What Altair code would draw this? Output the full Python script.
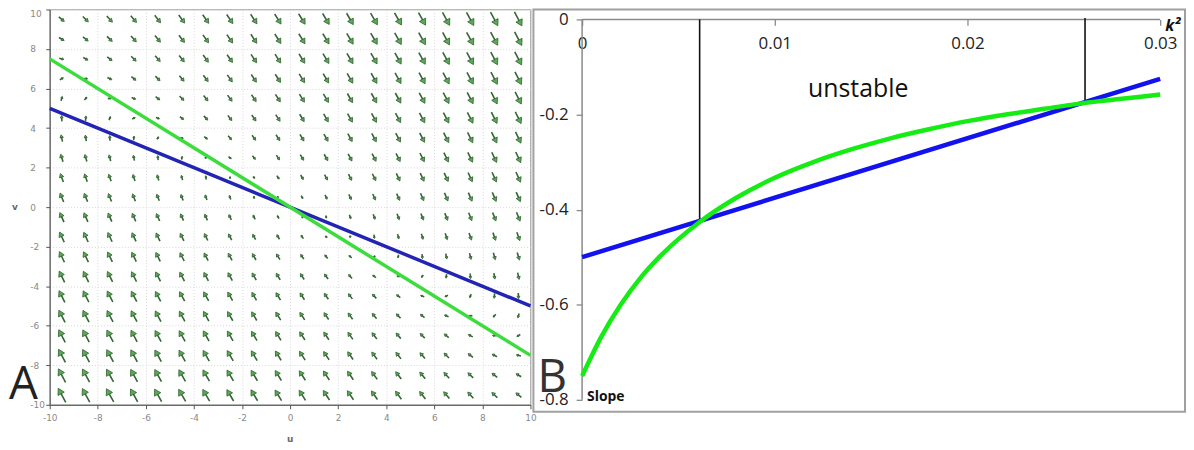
import math
import pandas as pd
import altair as alt

# ---------------- Panel A : direction field ----------------
grid_u = [-9.5, -8.5, -7.5, -6.5, -5.5, -4.5, -3.5, -2.5, -1.5, -0.5,
          0.5, 1.5, 2.5, 3.5, 4.5, 5.5, 6.5, 7.5, 8.5, 9.5]
grid_v = [-9.5, -8.5, -7.5, -6.5, -5.5, -4.5, -3.5, -2.5, -1.5, -0.5,
          0.5, 1.5, 2.5, 3.5, 4.5, 5.5, 6.5, 7.5, 8.5, 9.5]
# linear system read from the arrow directions (du/dt, dv/dt)
jac_du = [1.0, 2.0]     # du/dt = 1.0*u + 2.0*v
jac_dv = [-2.4, -3.2]   # dv/dt = -2.4*u - 3.2*v

line_u = [-10, 10]
blue_v = [5, -5]
green_v = [7.5, -7.5]
ticks_A = [-10, -8, -6, -4, -2, 0, 2, 4, 6, 8, 10]

# ---------------- Panel B : slopes vs k^2 ----------------
k2_blue = [0.0, 0.03]
slope_blue = [-0.5, -0.125]
k2_green = [0.0, 0.001, 0.002, 0.003, 0.004, 0.005, 0.006, 0.008, 0.010, 0.012,
            0.014, 0.016, 0.018, 0.020, 0.022, 0.024, 0.026, 0.028, 0.030]
slope_green = [-0.750, -0.667, -0.600, -0.545, -0.500, -0.462, -0.429, -0.375, -0.333, -0.300,
               -0.273, -0.250, -0.231, -0.214, -0.200, -0.188, -0.176, -0.167, -0.158]
k2_marks = [0.0061, 0.0261]
slope_marks = [-0.424, -0.174]
x_ticks_B = [0, 0.01, 0.02, 0.03]
y_ticks_B = [-0.8, -0.6, -0.4, -0.2, 0]

# ---------------- sizes ----------------
A_W, A_H = 484, 398
B_W, B_H = 656, 405
PX_U = A_W / 20.0
PX_V = A_H / 20.0
L_MAX = 17.0

# ---------- arrows ----------
vecs = []
for u in grid_u:
    for v in grid_v:
        f = jac_du[0] * u + jac_du[1] * v
        g = jac_dv[0] * u + jac_dv[1] * v
        vecs.append((u, v, f, g, math.hypot(f, g)))
max_mag = max(m for *_, m in vecs)
shaft_rows, head_rows = [], []
for u, v, f, g, m in vecs:
    if m == 0:
        continue
    L = L_MAX * math.sqrt(m / max_mag)
    dx, dy = f / m, g / m
    hl = max(1.5, min(6.2, 0.4 * L))
    tail = (u - dx * L / 2 / PX_U, v - dy * L / 2 / PX_V)
    tip = (u + dx * L / 2 / PX_U, v + dy * L / 2 / PX_V)
    send = (tip[0] - dx * hl * 0.6 / PX_U, tip[1] - dy * hl * 0.6 / PX_V)
    hc = (tip[0] - dx * hl * (2 / 3) / PX_U, tip[1] - dy * hl * (2 / 3) / PX_V)
    shaft_rows.append({"x": tail[0], "y": tail[1], "x2": send[0], "y2": send[1]})
    ang = math.degrees(math.atan2(dx, dy)) % 360
    head_rows.append({"x": hc[0], "y": hc[1], "ang": ang, "sz": (hl / 0.866) ** 2})
shaft_df = pd.DataFrame(shaft_rows)
head_df = pd.DataFrame(head_rows)

lines_A = pd.DataFrame({
    "x": line_u + line_u,
    "y": blue_v + green_v,
    "series": ["blue", "blue", "green", "green"],
})

axA_x = alt.Axis(values=ticks_A, title=None, grid=True, gridDash=[1, 2], gridColor="#d6d6d6",
                 domainColor="#555", tickColor="#555", tickSize=4, labelFontSize=9,
                 labelFont="DejaVu Sans", labelColor="#888", labelPadding=5, labelFlush=False,
                 labelExpr="'' + datum.value")
axA_y = alt.Axis(values=ticks_A, title=None, grid=True, gridDash=[1, 2], gridColor="#d6d6d6",
                 domainColor="#555", tickColor="#555", tickSize=4, labelFontSize=9,
                 labelFont="DejaVu Sans", labelColor="#888", labelPadding=16, labelAlign="left",
                 labelFlush=False, labelExpr="'' + datum.value",
                 labelBaseline={"condition": {"test": "datum.value == 10", "value": "top"},
                                "value": "middle"})
scA_x = alt.Scale(domain=[-10, 10], nice=False, zero=False)
scA_y = alt.Scale(domain=[-10, 10], nice=False, zero=False)

shafts = alt.Chart(shaft_df).mark_rule(color="#356535", strokeWidth=1.6).encode(
    x=alt.X("x:Q", scale=scA_x, axis=axA_x),
    y=alt.Y("y:Q", scale=scA_y, axis=axA_y),
    x2="x2:Q", y2="y2:Q",
)
heads = alt.Chart(head_df).mark_point(shape="triangle-up", filled=True, fill="#5aaa55",
                                      stroke="#2f5a2f", strokeWidth=0.7, opacity=1).encode(
    x=alt.X("x:Q", scale=scA_x, axis=axA_x),
    y=alt.Y("y:Q", scale=scA_y, axis=axA_y),
    angle=alt.Angle("ang:Q", scale=None),
    size=alt.Size("sz:Q", scale=None),
)
linesA = alt.Chart(lines_A).mark_line(strokeWidth=3.5).encode(
    x=alt.X("x:Q", scale=scA_x, axis=axA_x),
    y=alt.Y("y:Q", scale=scA_y, axis=axA_y),
    color=alt.Color("series:N", scale=alt.Scale(domain=["blue", "green"],
                                                range=["#2323b4", "#3ddc3d"]), legend=None),
)
one = pd.DataFrame({"t": ["x"]})
txtA = alt.Chart(one).mark_text(text="A", fontSize=46, font="Open Sans", color="#222",
                                align="left", baseline="middle").encode(
    x=alt.value(-41), y=alt.value(378))
txtv = alt.Chart(one).mark_text(text="v", fontSize=9, font="DejaVu Sans", fontWeight="bold",
                                color="#666", align="center", baseline="middle").encode(
    x=alt.value(-35), y=alt.value(199))
txtu = alt.Chart(one).mark_text(text="u", fontSize=9, font="DejaVu Sans", fontWeight="bold",
                                color="#666", align="center", baseline="middle").encode(
    x=alt.value(242), y=alt.value(432))

panelA = alt.layer(shafts, heads, linesA, txtA, txtv, txtu).properties(
    width=A_W, height=A_H,
    view=alt.ViewBackground(stroke="#9c9c9c", strokeWidth=1.2),
)

# ---------- panel B ----------
PXB_X = 19400.0
PXB_Y = 478.75
x0_off = 49   # px from plot left to k2=0
y0_off = 10   # px from plot top to slope=0
scB_x = alt.Scale(domain=[-x0_off / PXB_X, (B_W - x0_off) / PXB_X], nice=False, zero=False)
scB_y = alt.Scale(domain=[-(B_H - y0_off) / PXB_Y, y0_off / PXB_Y], nice=False, zero=False)
axB_x = alt.Axis(orient="bottom", offset=-(B_H - y0_off), values=x_ticks_B, domain=False,
                 grid=False, tickSize=6, tickColor="#8a8a8a", tickWidth=1.3, labelFontSize=17,
                 labelFont="Open Sans", labelColor="#222", labelPadding=10,
                 labelExpr="'' + datum.value", title=None, labelFlush=False, labelOverlap=False)
axB_y = alt.Axis(orient="left", offset=-x0_off, values=y_ticks_B, domain=False, grid=False,
                 tickSize=6, tickColor="#8a8a8a", tickWidth=1.3, labelFontSize=17,
                 labelFont="Open Sans", labelColor="#222", labelPadding=8,
                 labelExpr="'' + datum.value", title=None, labelFlush=False, labelOverlap=False)

def bx(f):
    return alt.X(f, scale=scB_x, axis=axB_x)

def by(f):
    return alt.Y(f, scale=scB_y, axis=axB_y)

axis_lines = pd.DataFrame({"k": [0.0, 0.0], "s": [0.0, 0.0],
                           "k2": [x_ticks_B[-1], 0.0], "s2": [0.0, y_ticks_B[0]]})
axrules = alt.Chart(axis_lines).mark_rule(color="#8a8a8a", strokeWidth=1.5).encode(
    x=bx("k:Q"), y=by("s:Q"), x2="k2:Q", y2="s2:Q")

marks_df = pd.DataFrame({"k": k2_marks, "s": [0.0, 0.003], "s2": slope_marks})
vrules = alt.Chart(marks_df).mark_rule(color="#111", strokeWidth=1.6).encode(
    x=bx("k:Q"), y=by("s:Q"), y2="s2:Q")

blue_df = pd.DataFrame({"k": k2_blue, "s": slope_blue})
green_df = pd.DataFrame({"k": k2_green, "s": slope_green})
blueB = alt.Chart(blue_df).mark_line(color="#1212f0", strokeWidth=4.5).encode(
    x=bx("k:Q"), y=by("s:Q"))
greenB = alt.Chart(green_df).mark_line(color="#14ec14", strokeWidth=4.5,
                                       interpolate="monotone").encode(
    x=bx("k:Q"), y=by("s:Q"))

txt_unst = alt.Chart(one).mark_text(text="unstable", fontSize=25, font="Open Sans",
                                    color="#111", align="center", baseline="middle").encode(
    x=alt.value(327), y=alt.value(80))
txt_k2 = alt.Chart(one).mark_text(text="k²", fontSize=16, font="Open Sans", fontWeight="bold",
                                  fontStyle="italic", color="#111", align="left",
                                  baseline="middle").encode(x=alt.value(636), y=alt.value(17))
txt_slope = alt.Chart(one).mark_text(text="Slope", fontSize=14, font="Open Sans",
                                     fontWeight="bold", color="#111", align="left",
                                     baseline="middle").encode(x=alt.value(54), y=alt.value(390))
txt_B = alt.Chart(one).mark_text(text="B", fontSize=46, font="Open Sans", color="#333",
                                 align="left", baseline="middle").encode(
    x=alt.value(4), y=alt.value(371))

panelB = alt.layer(axrules, vrules, blueB, greenB, txt_unst, txt_k2, txt_slope, txt_B).properties(
    width=B_W, height=B_H,
    view=alt.ViewBackground(stroke="#a0a0a0", strokeWidth=2),
)

chart = alt.hconcat(panelA, panelB, spacing=3, bounds="flush").properties(
    padding={"top": -2, "left": 0, "right": 0, "bottom": 0}, background="white")

chart.save("out.html", embed_options={"renderer": "svg", "actions": False})
